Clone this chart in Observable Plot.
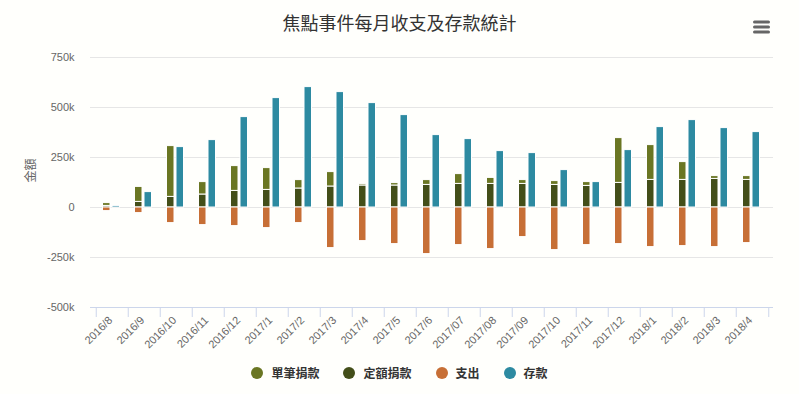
<!DOCTYPE html>
<html>
<head>
<meta charset="utf-8">
<script src="https://cdn.jsdelivr.net/npm/d3@7"></script>
<script src="https://cdn.jsdelivr.net/npm/@observablehq/plot@0.6"></script>
<style>
  html, body { margin: 0; padding: 0; background: #fffffc; }
  #wrap { position: relative; width: 799px; height: 394px; overflow: hidden; background: #fffffc; }
  #chart { position: absolute; left: 0; top: 0; }
  #title { position: absolute; left: 0; top: 9px; width: 799px; text-align: center;
           font: 18px "Noto Sans CJK TC", "Noto Sans", sans-serif; color: #333; line-height: 26px; }
  #legend { position: absolute; left: 0; top: 364px; width: 799px; display: flex; justify-content: center;
            font: bold 12px "Noto Sans CJK TC", "Noto Sans", sans-serif; color: #333; gap: 0; }
  .item { display: flex; align-items: center; margin: 0 12px; }
  .dot { width: 12px; height: 12px; border-radius: 50%; margin-right: 8px; }
  #menu { position: absolute; left: 751px; top: 18px; }
</style>
</head>
<body>
<div id="wrap">
  <div id="chart"></div>
  <div id="title">焦點事件每月收支及存款統計</div>
  <svg id="menu" width="22" height="20">
    <g stroke="#666" stroke-width="3" stroke-linecap="round">
      <line x1="3.5" y1="4" x2="17.5" y2="4"></line>
      <line x1="3.5" y1="9" x2="17.5" y2="9"></line>
      <line x1="3.5" y1="14" x2="17.5" y2="14"></line>
    </g>
  </svg>
  <div id="legend"></div>
</div>
<script>
const months = ["2016/8","2016/9","2016/10","2016/11","2016/12","2017/1","2017/2","2017/3","2017/4","2017/5","2017/6","2017/07","2017/08","2017/09","2017/10","2017/11","2017/12","2018/1","2018/2","2018/3","2018/4"];
const singleDonation = [14000,75000,254000,62000,124000,109000,42000,72000,7000,12000,24000,49000,30000,19000,19000,19000,224000,174000,89000,14000,19000];
const regularDonation = [8000,28000,53000,65000,83000,88000,95000,105000,110000,110000,113000,118000,118000,118000,113000,108000,123000,138000,138000,143000,138000];
const expense = [-18000,-28000,-78000,-88000,-93000,-103000,-78000,-203000,-168000,-183000,-233000,-188000,-208000,-148000,-213000,-188000,-183000,-198000,-193000,-198000,-178000];
const savings = [8000,77000,302000,337000,452000,547000,602000,577000,522000,462000,362000,342000,282000,272000,187000,127000,287000,402000,437000,397000,377000];
const seriesNames = ["單筆捐款","定額捐款","支出","存款"];
const seriesColors = ["#6a7623","#434e19","#c76f36","#2d8aa1"];
const yTicks = [-500000,-250000,0,250000,500000,750000];

const stacked = [];
months.forEach((m, i) => {
  stacked.push({month: m, series: "定額捐款", value: regularDonation[i]});
  stacked.push({month: m, series: "單筆捐款", value: singleDonation[i]});
  stacked.push({month: m, series: "支出", value: expense[i]});
});
const saved = months.map((m, i) => ({month: m, series: "存款", value: savings[i]}));

const W = 799, H = 360, mL = 90, mR = 26;
const half = (W - mL - mR) / months.length / 2;
const font = '"Liberation Sans", Arial, sans-serif';

const chart = Plot.plot({
  width: W, height: H,
  marginTop: 57, marginBottom: 53, marginLeft: mL, marginRight: mR,
  style: {background: "transparent", fontFamily: font},
  x: {type: "band", domain: months, padding: 0},
  y: {domain: [-500000, 750000]},
  color: {domain: seriesNames, range: seriesColors},
  marks: [
    Plot.gridY(yTicks.filter(d => d > -500000), {stroke: "#e6e6e6", strokeOpacity: 1}),
    Plot.axisY(yTicks, {tickSize: 0, tickPadding: 16, fontSize: 11, fill: "#666", label: null,
      tickFormat: d => d === 0 ? "0" : d / 1000 + "k"}),
    Plot.text(["金額"], {frameAnchor: "left", dx: -59, rotate: -90, fontSize: 12, fill: "#666",
      fontFamily: '"Noto Sans CJK TC", sans-serif'}),
    Plot.barY(stacked, Plot.stackY({x: "month", y: "value", fill: "series", order: null,
      insetLeft: 6.5, insetRight: 18, stroke: "white", strokeWidth: 1})),
    Plot.barY(saved, {x: "month", y: "value", fill: "series",
      insetLeft: 16, insetRight: 8.5, stroke: "white", strokeWidth: 1}),
    Plot.ruleY([-500000], {stroke: "#ccd6eb", strokeWidth: 1}),
    Plot.axisX(months, {tickSize: 10, stroke: "#ccd6eb", tickFormat: () => "", dx: -half, label: null}),
    Plot.axisX([months[months.length - 1]], {tickSize: 10, stroke: "#ccd6eb", tickFormat: () => "", dx: half, label: null}),
    Plot.axisX(months, {tickSize: 0, tickPadding: 11, tickRotate: -45, fontSize: 11, fill: "#666", dx: -2, label: null})
  ]
});
document.getElementById("chart").appendChild(chart);

const legend = document.getElementById("legend");
seriesNames.forEach((n, i) => {
  const it = document.createElement("div");
  it.className = "item";
  it.innerHTML = `<span class="dot" style="background:${seriesColors[i]}"></span><span>${n}</span>`;
  legend.appendChild(it);
});
</script>
</body>
</html>
